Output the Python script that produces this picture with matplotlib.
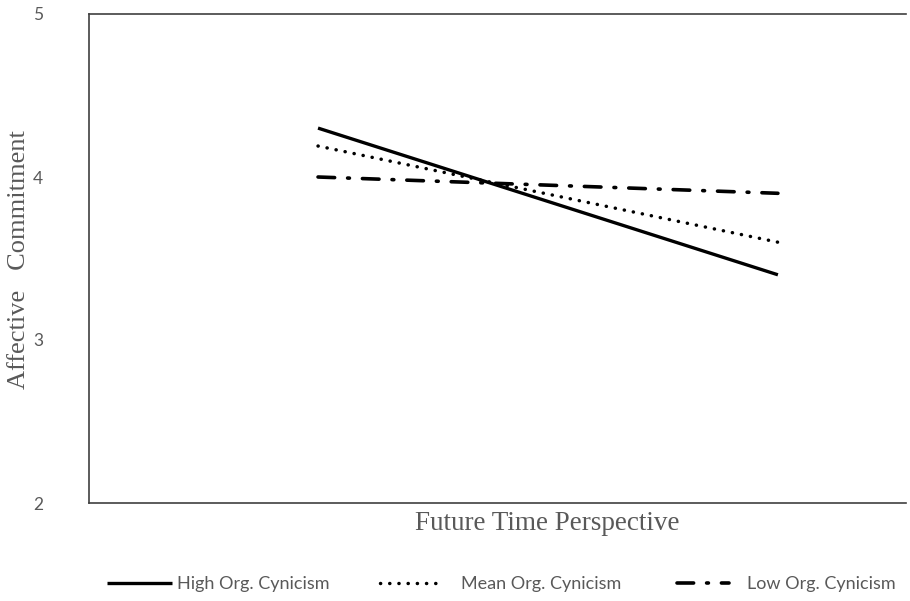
import matplotlib
matplotlib.use("Agg")
import matplotlib.pyplot as plt

ftp = [-1, 1]
high_cyn = [4.3, 3.4]
mean_cyn = [4.19, 3.6]
low_cyn = [4.0, 3.9]
series_labels = ["High Org. Cynicism", "Mean Org. Cynicism", "Low Org. Cynicism"]
yticks = [2, 3, 4, 5]

fig = plt.figure(figsize=(9.1, 6.01), dpi=100)
W, H = 910, 601
ax = fig.add_axes([89 / W, 1 - 503 / H, (906 - 89) / W, (503 - 14) / H])

l1, = ax.plot(ftp, high_cyn, color="black", lw=2.4, solid_capstyle="butt")
l2, = ax.plot(ftp, mean_cyn, color="black", lw=2.5, linestyle=(0, (0.05, 2.6)),
              dash_capstyle="round")
l3, = ax.plot(ftp, low_cyn, color="black", lw=2.6, linestyle=(0, (4.6, 3.6, 0.5, 3.6)),
              dash_capstyle="round")

ax.set_xlim(-1.996, 1.557)
ax.set_ylim(2, 5)
ax.set_yticks(yticks)
ax.set_yticklabels([str(t) for t in yticks], fontsize=12.5, color="#595959",
                   family="Lato")
ax.tick_params(axis="y", length=0, pad=33)
ax.set_xticks([])
for s in ["top", "left", "bottom"]:
    ax.spines[s].set_color("#404040")
    ax.spines[s].set_linewidth(1.2)
ax.spines["right"].set_visible(False)

fig.text(19 / W, 1 - 260 / H, "Affective   Commitment", rotation=90, ha="center",
         va="center", fontsize=19, color="#595959", family="Liberation Serif")
fig.text(547 / W, 1 - 524 / H, "Future Time Perspective", ha="center", va="center",
         fontsize=19.5, color="#595959", family="Liberation Serif")

ly = 1 - 584 / H
specs = [(l1, series_labels[0], 107, 3.6, 0.25),
         (l2, series_labels[1], 380, 3.4, 1.1),
         (l3, series_labels[2], 677, 2.9, 0.95)]
for line, lab, x0, hl, tp in specs:
    lg = fig.legend([line], [lab], loc="center left", bbox_to_anchor=(x0 / W, ly),
                    frameon=False, borderpad=0, borderaxespad=0,
                    prop={"family": "Lato", "size": 13},
                    handlelength=hl, handletextpad=tp)
    for t in lg.get_texts():
        t.set_color("#595959")

fig.savefig("out.png", dpi=100)
